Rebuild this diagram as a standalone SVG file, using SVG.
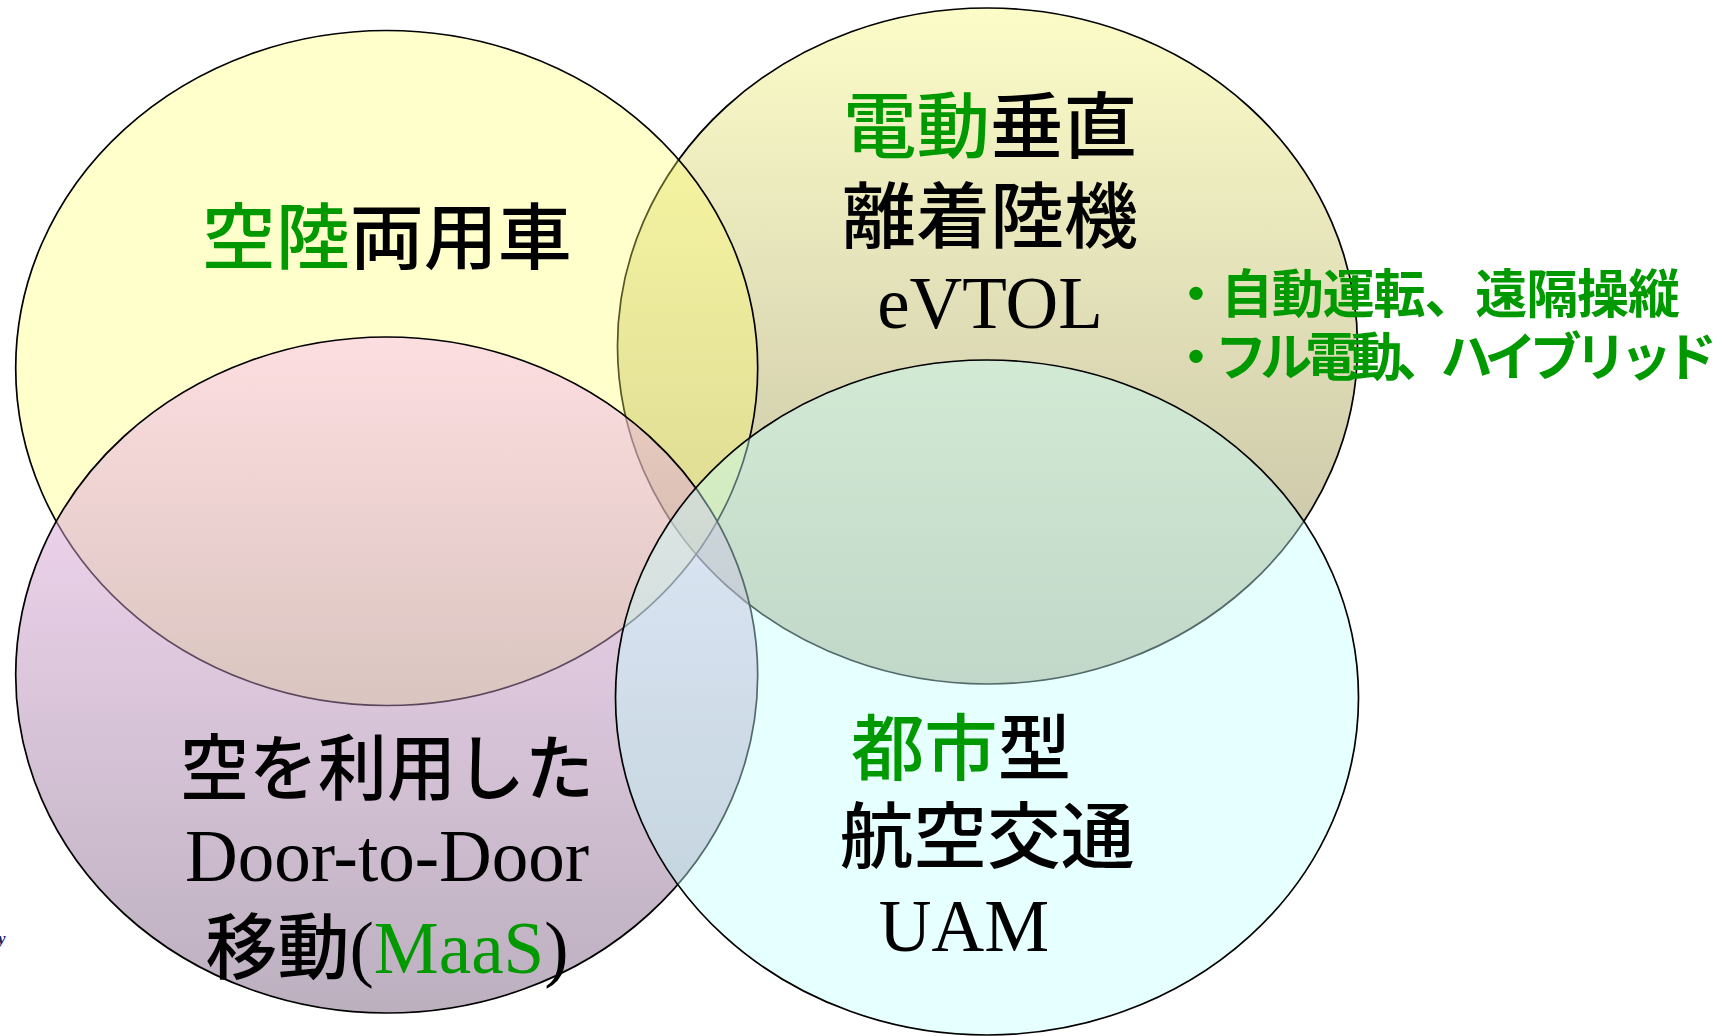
<svg xmlns="http://www.w3.org/2000/svg" width="1717" height="1036" viewBox="0 0 1717 1036">
<defs>
<linearGradient id="gTR" x1="0" y1="0" x2="0" y2="1">
<stop offset="0" stop-color="#FCFCC8"/>
<stop offset="1" stop-color="#C0BBA3"/>
</linearGradient>
<linearGradient id="gBL" x1="0" y1="0" x2="0" y2="1">
<stop offset="0" stop-color="#FBBDF5"/>
<stop offset="1" stop-color="#79617F"/>
</linearGradient>
</defs>
<style>
.ell { stroke: #000; stroke-width: 1.7; }
.jp { font-family: "Noto Sans CJK JP", "Noto Sans CJK SC", sans-serif; font-size: 72px; font-weight: 500; fill: #000; }
.lat { font-family: "Liberation Serif", "Noto Sans CJK JP", serif; font-size: 73px; font-weight: 400; fill: #000; }
.g { fill: #009900; }
.list { font-family: "Noto Sans CJK JP", "Noto Sans CJK SC", sans-serif; font-size: 52px; font-weight: 700; fill: #009900; }
</style>
<rect width="1717" height="1036" fill="#ffffff"/>

<g id="node-evtol">
<ellipse class="ell" cx="987.5" cy="346" rx="370" ry="338" fill="url(#gTR)"/>
<text class="jp" x="990" y="152" text-anchor="middle" textLength="294" lengthAdjust="spacingAndGlyphs"><tspan class="g">電動</tspan>垂直</text>
<text class="jp" x="990" y="242" text-anchor="middle" textLength="296" lengthAdjust="spacingAndGlyphs">離着陸機</text>
<text class="lat" x="990" y="328" text-anchor="middle">eVTOL</text>
<text class="list" x="1170" y="313" textLength="510" lengthAdjust="spacing">・自動運転、遠隔操縦</text>
<text class="list" x="1170" y="376" textLength="547" lengthAdjust="spacing">・フル電動、ハイブリッド</text>
</g>

<g id="node-flying-car">
<ellipse class="ell" cx="386.7" cy="368" rx="371" ry="337.5" fill="#FFFF66" fill-opacity="0.34"/>
<text class="jp" x="386.7" y="263" text-anchor="middle" textLength="370" lengthAdjust="spacingAndGlyphs"><tspan class="g">空陸</tspan>両用車</text>
</g>

<g id="node-maas">
<ellipse class="ell" cx="386.7" cy="675" rx="371" ry="338" fill="url(#gBL)" fill-opacity="0.5"/>
<text class="jp" x="387" y="794" text-anchor="middle" textLength="414" lengthAdjust="spacingAndGlyphs">空を利用した</text>
<text class="lat" x="387" y="881" text-anchor="middle">Door-to-Door</text>
<text class="jp" x="387" y="973" text-anchor="middle">移動<tspan class="lat">(<tspan class="g">MaaS</tspan>)</tspan></text>
</g>

<g id="node-uam">
<ellipse class="ell" cx="987" cy="697.5" rx="371.5" ry="337.5" fill="#C3FFFF" fill-opacity="0.42"/>
<text class="jp" x="961" y="774" text-anchor="middle" textLength="220" lengthAdjust="spacingAndGlyphs"><tspan class="g">都市</tspan>型</text>
<text class="jp" x="987" y="862" text-anchor="middle" textLength="295" lengthAdjust="spacingAndGlyphs">航空交通</text>
<text class="lat" x="964" y="951" text-anchor="middle">UAM</text>
</g>

<text x="-2" y="944" font-family="Liberation Serif, serif" font-size="17" font-weight="700" font-style="italic" fill="#1F1F66">y</text>
</svg>
